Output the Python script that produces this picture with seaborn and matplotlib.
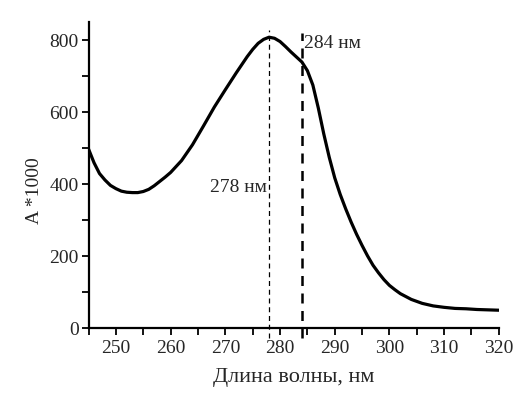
import numpy as np
import pandas as pd
import matplotlib
matplotlib.use("Agg")
import matplotlib.pyplot as plt
import seaborn as sns
from matplotlib.ticker import MultipleLocator

# spectrum
wavelength = [245, 246, 247, 248, 249, 250, 251, 252, 253, 254, 255, 256, 257, 258, 259,
              260, 262, 264, 266, 268, 270, 272, 274, 275, 276, 277, 278, 279, 280, 281,
              282, 283, 284, 285, 286, 287, 288, 289, 290, 291, 292, 293, 294, 295, 296,
              297, 298, 299, 300, 301, 302, 304, 306, 308, 310, 312, 314, 316, 318, 320]
absorb = [498, 460, 430, 412, 397, 388, 381, 378, 377, 377, 380, 386, 396, 408, 420,
          433, 466, 510, 562, 615, 663, 710, 755, 775, 792, 803, 809, 806, 797, 783,
          768, 754, 740, 716, 676, 612, 540, 475, 418, 372, 332, 295, 261, 230, 201,
          175, 154, 135, 119, 107, 96, 80, 69, 62, 58, 55, 54, 52, 51, 50]

peak_main = 278
peak_shoulder = 284
peak_labels = ["278 нм", "284 нм"]

df = pd.DataFrame({"wl": wavelength, "A": absorb})

sns.set_style("ticks")
plt.rcParams["font.family"] = ["Liberation Serif", "DejaVu Serif"]

fig = plt.figure(figsize=(5.24, 3.94), dpi=100)
ax = fig.add_axes([0.169, 0.167, 0.783, 0.776])

sns.lineplot(data=df, x="wl", y="A", ax=ax, color="black", linewidth=2.3)

# marker lines for the two maxima
ax.plot([peak_main, peak_main], [-28, 830], color="black", linestyle=(0, (4, 3)),
        linewidth=0.9, clip_on=False)
ax.plot([peak_shoulder, peak_shoulder], [-28, 820], color="black", linestyle=(0, (4, 3)),
        linewidth=1.8, clip_on=False)
ax.text(peak_main - 0.4, 392, peak_labels[0], ha="right", va="center", fontsize=14)
ax.text(peak_shoulder + 0.4, 792, peak_labels[1], ha="left", va="center", fontsize=14)

ax.set_xlim(245, 320)
ax.set_ylim(0, 850)
ax.set_xticks([250, 260, 270, 280, 290, 300, 310, 320])
ax.xaxis.set_minor_locator(MultipleLocator(5))
ax.yaxis.set_major_locator(MultipleLocator(200))
ax.yaxis.set_minor_locator(MultipleLocator(100))
ax.tick_params(which="both", direction="out", width=1.3, length=5, labelsize=14, color="black")
ax.tick_params(axis="y", which="major", pad=2)

for side in ["top", "right"]:
    ax.spines[side].set_visible(False)
for side in ["left", "bottom"]:
    ax.spines[side].set_linewidth(1.6)
    ax.spines[side].set_color("black")

ax.set_xlabel("Длина волны, нм", fontsize=16, labelpad=8)
ax.set_ylabel("A *1000", fontsize=14)
ax.yaxis.set_label_coords(-0.11, 0.45)

fig.savefig("out.png", dpi=100)
